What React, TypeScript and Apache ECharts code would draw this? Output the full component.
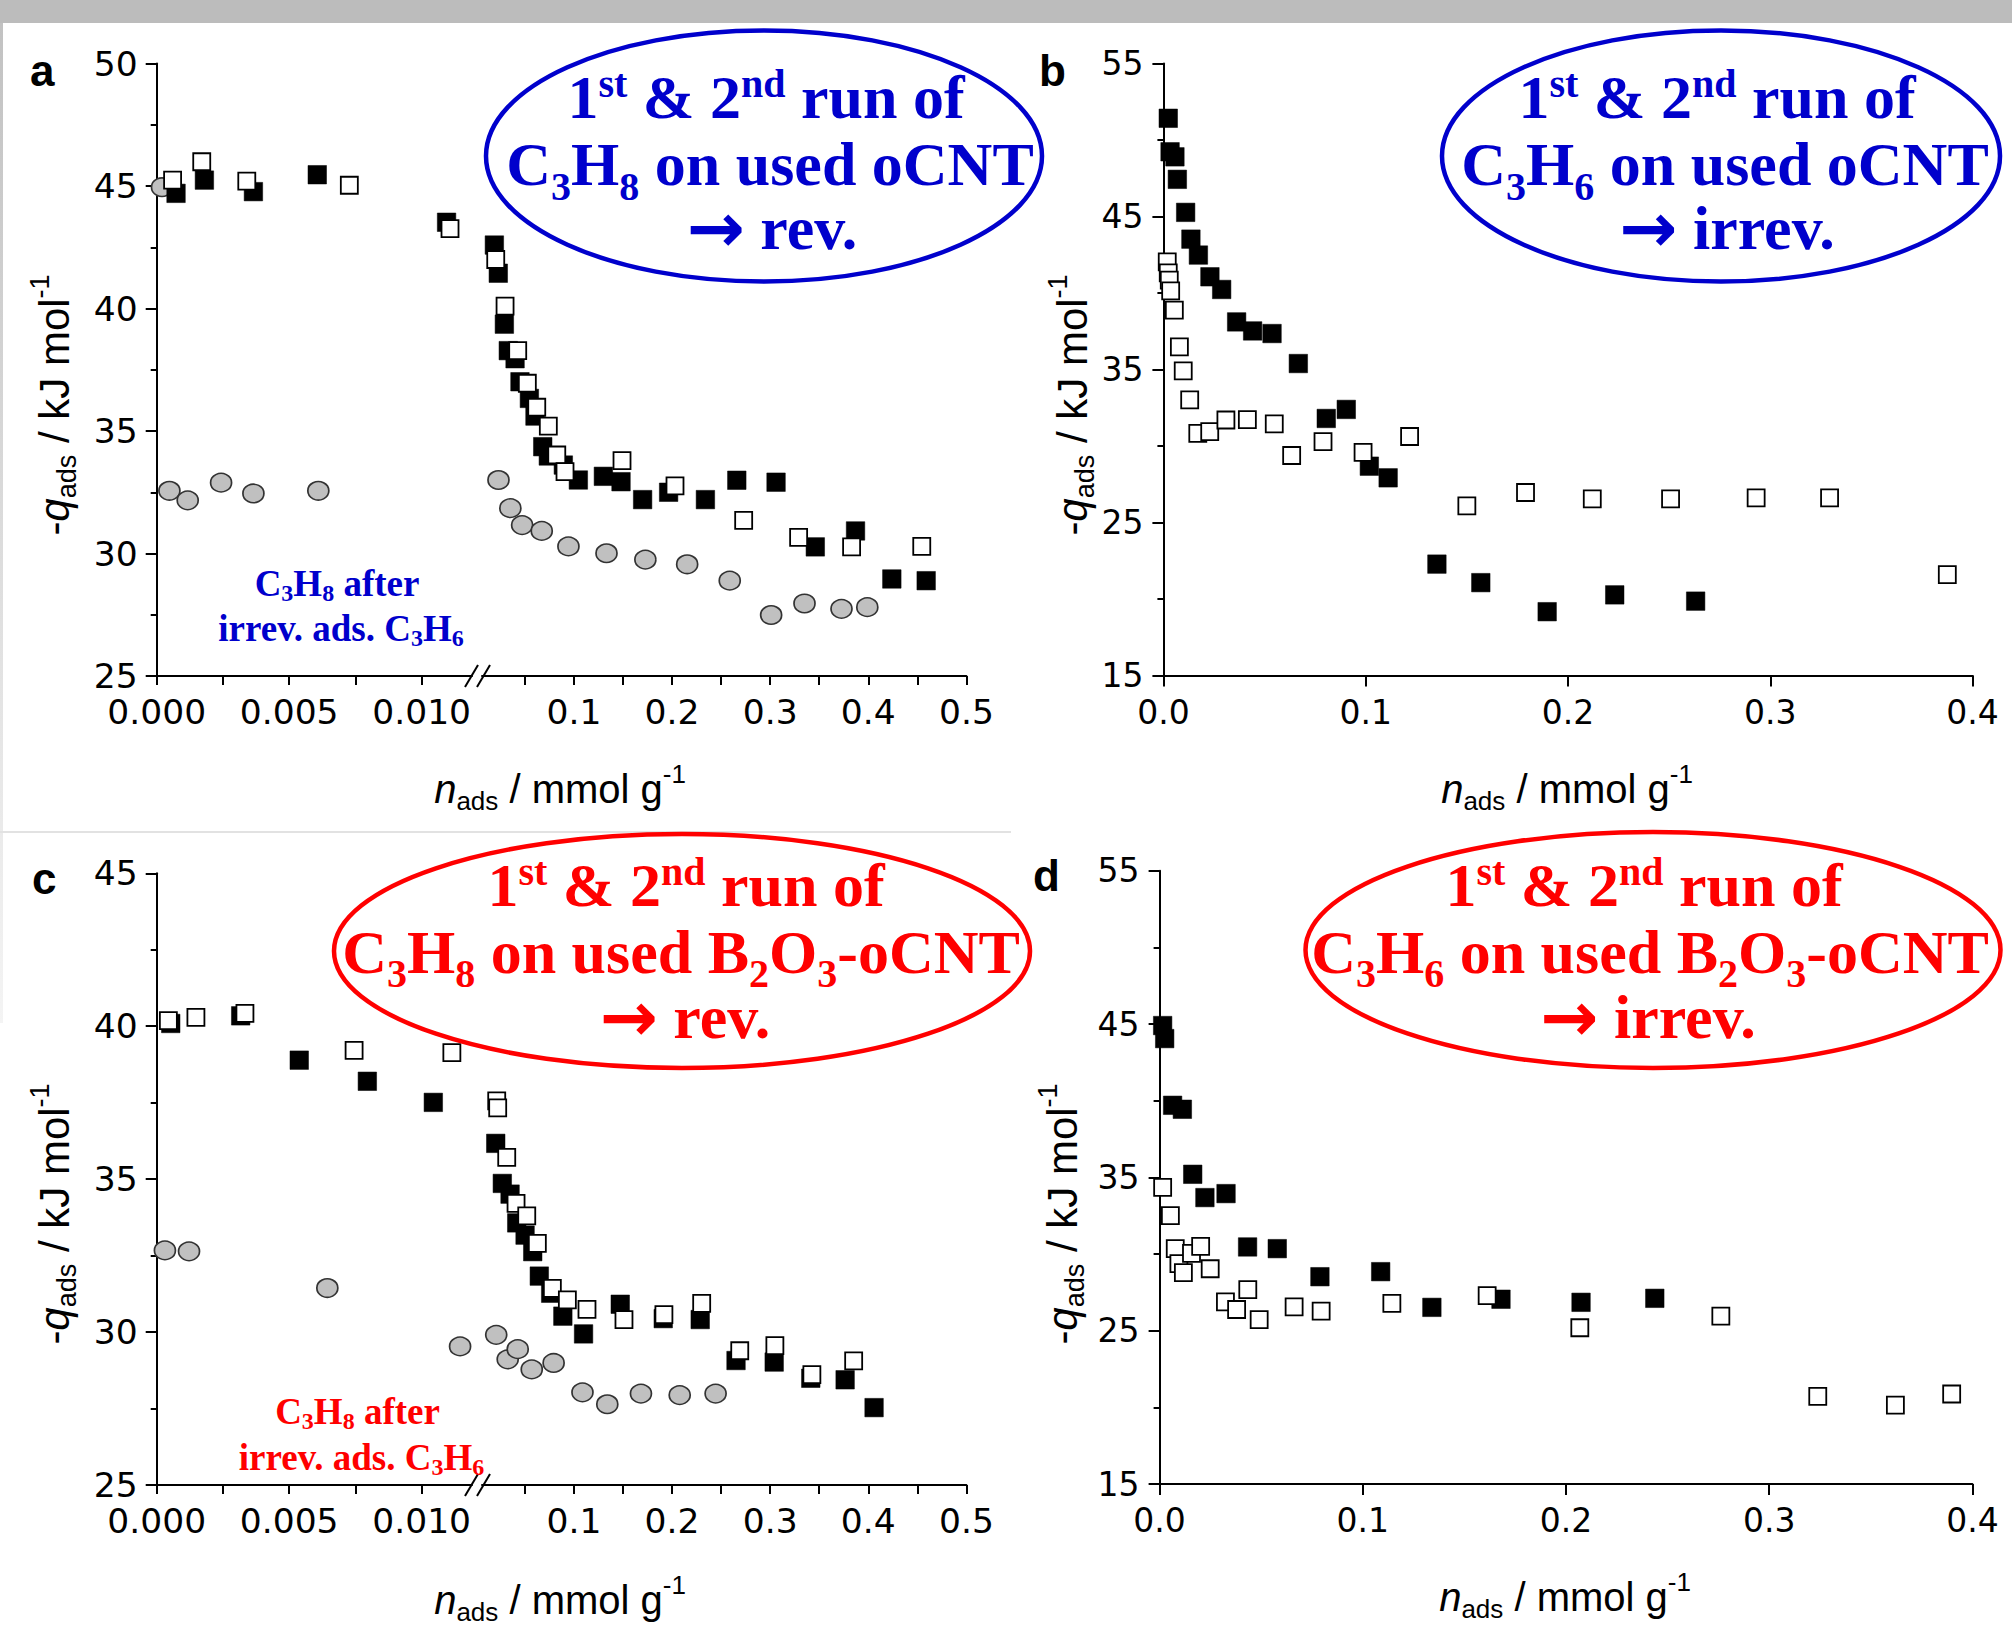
import React, { useEffect, useRef } from "react";
import * as echarts from "echarts";

type Pt = [number, number];

// ---------------- DATA ----------------
// Panel a: C3H8 on used oCNT (1st run filled, 2nd run open, C3H8 after irrev. ads. C3H6 grey circles)
const aRun1: Pt[] = [
  [0.00073, 44.7], [0.0018, 45.24], [0.00365, 44.77], [0.00606, 45.46], [0.01094, 43.52],
  [0.0189, 42.59], [0.0229, 41.44], [0.0291, 39.36], [0.0331, 38.28], [0.040, 37.95], [0.045, 37.01],
  [0.0546, 36.33], [0.0603, 35.61], [0.0682, 34.36], [0.0739, 33.98], [0.0892, 33.61], [0.1045, 33.0],
  [0.130, 33.15], [0.148, 32.93], [0.170, 32.2], [0.1965, 32.5], [0.234, 32.2], [0.266, 32.99],
  [0.306, 32.91], [0.346, 30.27], [0.387, 30.92], [0.424, 28.96], [0.459, 28.89],
];
const aRun2: Pt[] = [
  [0.0006, 45.24], [0.0017, 45.99], [0.0034, 45.2], [0.00727, 45.03], [0.01107, 43.26],
  [0.0203, 42.0], [0.0298, 40.1], [0.0427, 38.28], [0.0525, 36.95], [0.0621, 35.97], [0.0739, 35.2],
  [0.0825, 34.02], [0.0909, 33.34], [0.149, 33.79], [0.203, 32.76], [0.273, 31.35], [0.329, 30.66],
  [0.383, 30.27], [0.4545, 30.29],
];
const aAfter: Pt[] = [
  [0.0002, 44.95], [0.00048, 32.56], [0.00117, 32.17], [0.00243, 32.89], [0.00365, 32.45], [0.0061, 32.56],
  [0.0231, 33.0], [0.0352, 31.85], [0.0472, 31.16], [0.0672, 30.92], [0.0944, 30.29], [0.1332, 30.01],
  [0.1728, 29.75], [0.2154, 29.56], [0.2588, 28.89], [0.301, 27.49], [0.335, 27.96], [0.3727, 27.74],
  [0.399, 27.81],
];

// Panel b: C3H6 on used oCNT
const bRun1: Pt[] = [
  [0.0024, 51.42], [0.0033, 49.23], [0.0057, 48.9], [0.0069, 47.43], [0.011, 45.27], [0.0136, 43.52],
  [0.0173, 42.48], [0.023, 41.06], [0.0288, 40.23], [0.0362, 38.11], [0.0441, 37.52], [0.0537, 37.35],
  [0.0667, 35.39], [0.0805, 31.8], [0.0904, 32.39], [0.1018, 28.68], [0.1111, 27.92], [0.1352, 22.28],
  [0.1569, 21.07], [0.1897, 19.17], [0.2231, 20.27], [0.2631, 19.86],
];
const bRun2: Pt[] = [
  [0.0019, 42.04], [0.0024, 41.32], [0.0029, 40.84], [0.0036, 40.14], [0.0054, 38.88], [0.0079, 36.48],
  [0.0098, 34.91], [0.013, 33.01], [0.017, 30.83], [0.0229, 30.94], [0.0309, 31.7], [0.0415, 31.73],
  [0.0548, 31.45], [0.0634, 29.38], [0.0789, 30.28], [0.0987, 29.58], [0.1217, 30.62], [0.150, 26.09],
  [0.179, 26.96], [0.212, 26.54], [0.2507, 26.54], [0.293, 26.61], [0.3293, 26.61], [0.3875, 21.59],
];

// Panel c: C3H8 on used B2O3-oCNT
const cRun1: Pt[] = [
  [0.00053, 40.09], [0.00317, 40.34], [0.00538, 38.89], [0.00795, 38.2], [0.01044, 37.51],
  [0.0203, 36.17], [0.027, 34.86], [0.0349, 34.51], [0.0417, 33.57], [0.0502, 33.17], [0.058, 32.63],
  [0.0647, 31.83], [0.0763, 31.27], [0.0887, 30.52], [0.1098, 29.94], [0.1472, 30.91], [0.191, 30.44],
  [0.2287, 30.41], [0.2652, 29.07], [0.3041, 29.02], [0.3414, 28.49], [0.3764, 28.44], [0.4059, 27.53],
];
const cRun2: Pt[] = [
  [0.00044, 40.18], [0.00148, 40.29], [0.00333, 40.42], [0.00745, 39.21], [0.01114, 39.14],
  [0.0213, 37.56], [0.0223, 37.33], [0.0315, 35.71], [0.041, 34.21], [0.0519, 33.8], [0.0627, 32.9],
  [0.078, 31.43], [0.0933, 31.05], [0.1133, 30.74], [0.151, 30.41], [0.1917, 30.57], [0.2302, 30.94],
  [0.269, 29.39], [0.3048, 29.56], [0.3425, 28.61], [0.3851, 29.06],
];
const cAfter: Pt[] = [
  [0.00031, 32.67], [0.00122, 32.64], [0.00644, 31.44], [0.01145, 29.53],
  [0.0208, 29.91], [0.0325, 29.11], [0.0427, 29.44], [0.057, 28.78], [0.0793, 28.99], [0.1087, 28.03],
  [0.134, 27.64], [0.1683, 27.99], [0.2078, 27.94], [0.2444, 27.99],
];

// Panel d: C3H6 on used B2O3-oCNT
const dRun1: Pt[] = [
  [0.0015, 44.9], [0.0025, 44.05], [0.0064, 39.7], [0.0112, 39.44], [0.0163, 35.2], [0.0223, 33.68],
  [0.0327, 33.94], [0.0433, 30.46], [0.0579, 30.35], [0.0789, 28.52], [0.1088, 28.85], [0.134, 26.52],
  [0.168, 27.05], [0.2074, 26.85], [0.2437, 27.11],
];
const dRun2: Pt[] = [
  [0.0015, 34.35], [0.0053, 32.5], [0.0077, 30.35], [0.0095, 29.37], [0.0117, 28.78], [0.0157, 30.04],
  [0.0202, 30.5], [0.0249, 29.04], [0.0324, 26.88], [0.0379, 26.38], [0.0434, 27.68], [0.049, 25.72],
  [0.0662, 26.55], [0.0795, 26.28], [0.1143, 26.78], [0.1612, 27.28], [0.2068, 25.19], [0.2762, 25.95],
  [0.3239, 20.71], [0.3621, 20.14], [0.3898, 20.87],
];

// Axis ticks / labels
const SEG_BREAK = 0.0122; // values below are drawn on the left (expanded) x segment
const LEFT_MAX = 0.0119;
const RIGHT_MIN = 0.0063;
const xTicksLeft = [0, 0.0025, 0.005, 0.0075, 0.01];
const xLabelsLeft = [0, 0.005, 0.01];
const xTicksRight = [0.05, 0.1, 0.15, 0.2, 0.25, 0.3, 0.35, 0.4, 0.45, 0.5];
const xLabelsRight = [0.1, 0.2, 0.3, 0.4, 0.5];

// ---------------- STYLE ----------------
const SANS = "'Liberation Sans', Arial, Helvetica, sans-serif";
const WIDE = "'DejaVu Sans', Verdana, sans-serif";
const SERIF = "'Liberation Serif', 'Times New Roman', Times, serif";
const BLUE = "#0000CC";
const RED = "#FF0000";
const NB = "\u00a0";
const LS = { color: "#000", width: 2 };

function yAxisDef(gi: number, min: number, max: number, interval: number, fontSize: number, margin: number, show = true) {
  return {
    type: "value", gridIndex: gi, min, max, interval, show,
    axisLine: { show: true, onZero: false, lineStyle: LS },
    axisTick: { show: true, length: 11, lineStyle: LS },
    minorTick: { show: true, splitNumber: 2, length: 6, lineStyle: LS },
    axisLabel: { fontSize, fontFamily: WIDE, color: "#000", margin, formatter: (v: number) => String(v) },
    splitLine: { show: false },
  };
}

function xAxisSeg(gi: number, min: number, max: number, ticks: number[], labels: number[], digits: number) {
  return {
    type: "value", gridIndex: gi, min, max,
    axisLine: { show: true, onZero: false, lineStyle: LS },
    axisTick: { show: true, length: 9, lineStyle: LS, customValues: ticks },
    axisLabel: { customValues: labels, fontSize: 34.5, fontFamily: WIDE, color: "#000", margin: 18,
      formatter: (v: number) => v.toFixed(digits) },
    splitLine: { show: false },
  };
}

function xAxisFull(gi: number) {
  return {
    type: "value", gridIndex: gi, min: 0, max: 0.4, interval: 0.1,
    axisLine: { show: true, onZero: false, lineStyle: LS },
    axisTick: { show: true, length: 11, lineStyle: LS },
    axisLabel: { fontSize: 33, fontFamily: WIDE, color: "#000", margin: 20, formatter: (v: number) => v.toFixed(1) },
    splitLine: { show: false },
  };
}

type Kind = "filled" | "open" | "circle";
function scatter(data: Pt[], kind: Kind, axisIdx: number) {
  const base: any = { type: "scatter", data, xAxisIndex: axisIdx, yAxisIndex: axisIdx, silent: true, clip: false };
  if (kind === "filled") return { ...base, z: 3, symbol: "rect", symbolSize: 18.5, itemStyle: { color: "#000", borderColor: "#000", borderWidth: 0.5, opacity: 1 } };
  if (kind === "open") return { ...base, z: 4, symbol: "rect", symbolSize: 17, itemStyle: { color: "#fff", borderColor: "#000", borderWidth: 1.8, opacity: 1 } };
  return { ...base, z: 2, symbol: "circle", symbolSize: [21, 18.5], itemStyle: { color: "#c0c0c0", borderColor: "#333", borderWidth: 1.6, opacity: 1 } };
}
const leftPart = (d: Pt[]) => d.filter((p) => p[0] < SEG_BREAK);
const rightPart = (d: Pt[]) => d.filter((p) => p[0] >= SEG_BREAK);

function serifRich(color: string, size: number, small: number, lh: number, supPad: number, subPad: number) {
  const base = { fontFamily: SERIF, fontWeight: "bold", fill: color };
  return {
    m: { ...base, fontSize: size, lineHeight: lh },
    arr: { fontFamily: "'DejaVu Sans', sans-serif", fontWeight: "bold", fill: color, fontSize: size * 1.12, lineHeight: lh },
    sup: { ...base, fontSize: small, lineHeight: 1, verticalAlign: "top", padding: [supPad, 0, 0, 0] },
    sub: { ...base, fontSize: small, lineHeight: 1, verticalAlign: "top", padding: [subPad, 0, 0, 0] },
  };
}
function sansRich(size: number, small: number) {
  const base = { fontFamily: SANS, fill: "#000" };
  return {
    m: { ...base, fontSize: size, lineHeight: 60 },
    i: { ...base, fontSize: size, fontStyle: "italic", lineHeight: 60 },
    sup: { ...base, fontSize: small, lineHeight: 1, verticalAlign: "top", padding: [2, 0, 0, 0] },
    sub: { ...base, fontSize: small, lineHeight: 1, verticalAlign: "top", padding: [29, 0, 0, 0] },
  };
}

function richText(x: number, y: number, text: string, rich: any, rotation = 0) {
  return {
    type: "text", x, y, rotation, silent: true, z: 10,
    style: { text, rich, align: "center", verticalAlign: "middle", textAlign: "center", textVerticalAlign: "middle" },
  };
}
function plainText(x: number, y: number, text: string, font: string, fill = "#000") {
  return {
    type: "text", x, y, silent: true, z: 10,
    style: { text, font, fill, align: "left", verticalAlign: "middle", textAlign: "left", textVerticalAlign: "middle" },
  };
}

function ellipseBlock(cx: number, cy: number, rx: number, ry: number, color: string, lines: [number, number, string][]) {
  const rich = serifRich(color, 62, 40, 70, 1, 37);
  const out: any[] = [
    { type: "ellipse", shape: { cx, cy, rx, ry }, style: { fill: "none", stroke: color, lineWidth: 4.5 }, silent: true, z: 9 },
  ];
  lines.forEach(([x, y, t]) => out.push(richText(x, y, t, rich)));
  return out;
}

const L1 = `{m|1}{sup|st}{m|${NB}&${NB}2}{sup|nd}{m|${NB}run${NB}of}`;
const L2 = (h: string, support: string) =>
  `{m|C}{sub|3}{m|H}{sub|${h}}{m|${NB}on${NB}used${NB}}` + support;
const L3 = (word: string) => `{arr|→}{m|${NB}${word}}`;
const OCNT = `{m|oCNT}`;
const BOCNT = `{m|B}{sub|2}{m|O}{sub|3}{m|-oCNT}`;

function xTitle(x: number, y: number) {
  return richText(x, y, `{i|n}{sub|ads}{m|${NB}/${NB}mmol${NB}g}{sup|-1}`, sansRich(40, 26));
}
function yTitle(x: number, y: number) {
  return richText(x, y, `{m|-}{i|q}{sub|ads}{m|${NB}/${NB}kJ${NB}mol}{sup|-1}`, sansRich(42, 27), Math.PI / 2);
}
function note(cx: number, cy1: number, cy2: number, color: string) {
  const rich = serifRich(color, 37, 24, 42, 0, 19);
  return [
    richText(cx, cy1, `{m|C}{sub|3}{m|H}{sub|8}{m|${NB}after}`, rich),
    richText(cx + 4, cy2, `{m|irrev.${NB}ads.${NB}C}{sub|3}{m|H}{sub|6}`, rich),
  ];
}

export default function App() {
  const ref = useRef<HTMLDivElement>(null);
  useEffect(() => {
    document.body.style.margin = "0";
    document.body.style.background = "#fff";
    if (!ref.current) return;
    const chart = echarts.init(ref.current, undefined, { renderer: "svg" });

    const grids = [
      { left: 156.7, top: 63.5, width: 315.3, height: 612.5 }, // a left
      { left: 482, top: 63.5, width: 484.4, height: 612.5 }, // a right
      { left: 1163.4, top: 63.5, width: 809.2, height: 612 }, // b
      { left: 156.7, top: 873.3, width: 315.3, height: 611.7 }, // c left
      { left: 482, top: 873.3, width: 484.4, height: 611.7 }, // c right
      { left: 1159.6, top: 870.7, width: 812.8, height: 613.3 }, // d
    ].map((g) => ({ ...g, containLabel: false, show: false }));

    const xAxis = [
      xAxisSeg(0, 0, LEFT_MAX, xTicksLeft, xLabelsLeft, 3),
      xAxisSeg(1, RIGHT_MIN, 0.5, xTicksRight, xLabelsRight, 1),
      xAxisFull(2),
      xAxisSeg(3, 0, LEFT_MAX, xTicksLeft, xLabelsLeft, 3),
      xAxisSeg(4, RIGHT_MIN, 0.5, xTicksRight, xLabelsRight, 1),
      xAxisFull(5),
    ];
    const yAxis = [
      yAxisDef(0, 25, 50, 5, 34.5, 19),
      yAxisDef(1, 25, 50, 5, 34.5, 19, false),
      yAxisDef(2, 15, 55, 10, 33, 20),
      yAxisDef(3, 25, 45, 5, 34.5, 19),
      yAxisDef(4, 25, 45, 5, 34.5, 19, false),
      yAxisDef(5, 15, 55, 10, 33, 20),
    ];

    const series = [
      scatter(leftPart(aAfter), "circle", 0), scatter(leftPart(aRun1), "filled", 0), scatter(leftPart(aRun2), "open", 0),
      scatter(rightPart(aAfter), "circle", 1), scatter(rightPart(aRun1), "filled", 1), scatter(rightPart(aRun2), "open", 1),
      scatter(bRun1, "filled", 2), scatter(bRun2, "open", 2),
      scatter(leftPart(cAfter), "circle", 3), scatter(leftPart(cRun1), "filled", 3), scatter(leftPart(cRun2), "open", 3),
      scatter(rightPart(cAfter), "circle", 4), scatter(rightPart(cRun1), "filled", 4), scatter(rightPart(cRun2), "open", 4),
      scatter(dRun1, "filled", 5), scatter(dRun2, "open", 5),
    ];

    const breakMarks = (yb: number) => [
      { type: "line", shape: { x1: 465, y1: yb + 11, x2: 478, y2: yb - 11 }, style: { stroke: "#000", lineWidth: 2 }, silent: true, z: 10 },
      { type: "line", shape: { x1: 477, y1: yb + 11, x2: 490, y2: yb - 11 }, style: { stroke: "#000", lineWidth: 2 }, silent: true, z: 10 },
    ];

    const graphic: any[] = [
      { type: "rect", shape: { x: 0, y: 0, width: 2012, height: 23 }, style: { fill: "#bcbcbc" }, silent: true, z: 0 },
      { type: "rect", shape: { x: 0, y: 23, width: 3, height: 1000 },
        style: { fill: new echarts.graphic.LinearGradient(0, 0, 0, 1, [{ offset: 0, color: "#c2c2c2" }, { offset: 1, color: "#f4f4f4" }]) }, silent: true, z: 0 },
      { type: "line", shape: { x1: 0, y1: 832, x2: 1011, y2: 832 }, style: { stroke: "#e2e2e2", lineWidth: 2 }, silent: true, z: 0 },
      ...breakMarks(676),
      ...breakMarks(1485),
      // panel letters
      plainText(30, 70, "a", `bold 44px ${SANS}`),
      plainText(1039, 70, "b", `bold 44px ${SANS}`),
      plainText(32, 878, "c", `bold 44px ${SANS}`),
      plainText(1033, 875, "d", `bold 44px ${SANS}`),
      // axis titles
      xTitle(560, 789), xTitle(1567, 789), xTitle(560, 1600), xTitle(1565, 1597),
      yTitle(54, 405), yTitle(1072, 405), yTitle(54, 1214), yTitle(1062, 1214),
      // ellipses
      ...ellipseBlock(764, 156, 278, 125.5, BLUE, [
        [766, 97, L1], [770, 164, L2("8", OCNT)], [772, 228, L3("rev.")],
      ]),
      ...ellipseBlock(1721, 156, 279, 125.5, BLUE, [
        [1717, 97, L1], [1725, 164, L2("6", OCNT)], [1727, 228, L3("irrev.")],
      ]),
      ...ellipseBlock(682, 951, 348, 117, RED, [
        [686, 885, L1], [681, 951.5, L2("8", BOCNT)], [685, 1017, L3("rev.")],
      ]),
      ...ellipseBlock(1653, 950, 347.5, 118, RED, [
        [1644, 885, L1], [1650, 951.5, L2("6", BOCNT)], [1648, 1017, L3("irrev.")],
      ]),
      ...note(337, 583, 628, BLUE),
      ...note(357.5, 1411, 1457, RED),
    ];

    chart.setOption({
      animation: false,
      backgroundColor: "#fff",
      grid: grids,
      xAxis,
      yAxis,
      series,
      graphic,
    });
    return () => chart.dispose();
  }, []);
  return <div ref={ref} style={{ width: 2012, height: 1628 }} />;
}
